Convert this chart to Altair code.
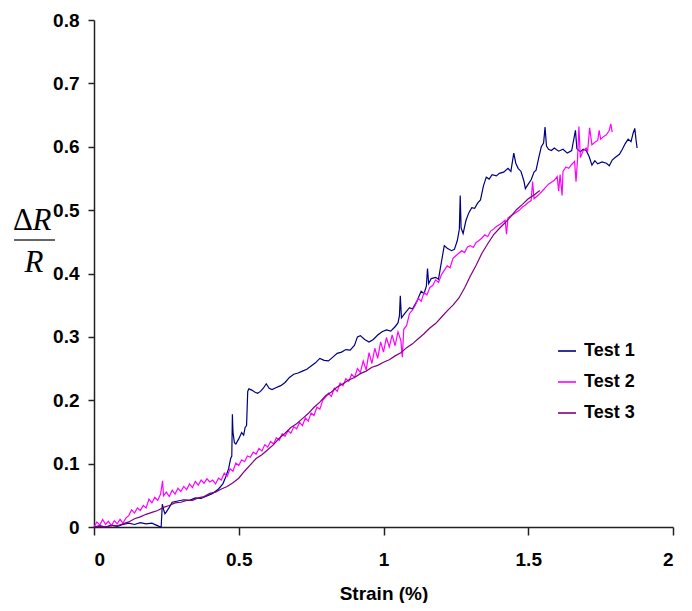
import altair as alt
import pandas as pd

series_names = ["Test 1", "Test 2", "Test 3"]
series_colors = ["#000080", "#FF00FF", "#800080"]
x_ticks = [0, 0.5, 1, 1.5, 2]
y_ticks = [0, 0.1, 0.2, 0.3, 0.4, 0.5, 0.6, 0.7, 0.8]

t1_strain = [
    0.00, 0.02, 0.04, 0.06, 0.08, 0.10, 0.12, 0.14, 0.16, 0.18,
    0.20, 0.215, 0.225, 0.232, 0.236, 0.24, 0.245, 0.25, 0.26, 0.27,
    0.29, 0.31, 0.33, 0.35, 0.37, 0.39, 0.41, 0.43, 0.445, 0.455,
    0.465, 0.472, 0.476, 0.478, 0.480, 0.485, 0.49, 0.50, 0.51, 0.517,
    0.522, 0.527, 0.531, 0.535, 0.545, 0.555, 0.565, 0.575, 0.585, 0.595,
    0.605, 0.615, 0.63, 0.645, 0.66, 0.675, 0.69, 0.705, 0.72, 0.735,
    0.75, 0.765, 0.78, 0.795, 0.81, 0.825, 0.84, 0.855, 0.87, 0.885,
    0.90, 0.91, 0.92, 0.935, 0.95, 0.965, 0.98, 0.995, 1.01, 1.025,
    1.04, 1.05, 1.055, 1.058, 1.062, 1.075, 1.09, 1.10, 1.115, 1.13,
    1.14, 1.148, 1.152, 1.156, 1.165, 1.18, 1.19, 1.20, 1.21, 1.22,
    1.235, 1.245, 1.255, 1.262, 1.265, 1.268, 1.275, 1.285, 1.295, 1.305,
    1.315, 1.325, 1.335, 1.345, 1.355, 1.365, 1.375, 1.39, 1.40, 1.415,
    1.43, 1.44, 1.45, 1.457, 1.465, 1.475, 1.485, 1.49, 1.50, 1.51,
    1.52, 1.527, 1.535, 1.545, 1.553, 1.558, 1.563, 1.57, 1.58, 1.59,
    1.605, 1.62, 1.635, 1.65, 1.663, 1.668, 1.68, 1.69, 1.70, 1.71,
    1.72, 1.73, 1.74, 1.755, 1.77, 1.78, 1.79, 1.80, 1.815, 1.825,
    1.835, 1.845, 1.855, 1.862, 1.868, 1.872, 1.876,
]
t1_dr = [
    0.000, 0.002, 0.000, 0.003, 0.001, 0.004, 0.006, 0.004, 0.007, 0.005,
    0.006, 0.003, 0.001, 0.000, 0.036, 0.028, 0.021, 0.024, 0.031, 0.039,
    0.041, 0.043, 0.042, 0.046, 0.045, 0.049, 0.053, 0.060, 0.068, 0.079,
    0.092, 0.108, 0.112, 0.178, 0.150, 0.133, 0.131, 0.139, 0.149, 0.145,
    0.157, 0.160, 0.214, 0.218, 0.216, 0.213, 0.211, 0.214, 0.219, 0.226,
    0.219, 0.217, 0.220, 0.223, 0.228, 0.236, 0.241, 0.243, 0.246, 0.249,
    0.254, 0.259, 0.266, 0.263, 0.262, 0.268, 0.274, 0.276, 0.280, 0.279,
    0.287, 0.300, 0.302, 0.296, 0.292, 0.296, 0.303, 0.308, 0.311, 0.309,
    0.316, 0.322, 0.333, 0.365, 0.330, 0.338, 0.346, 0.344, 0.356, 0.372,
    0.368, 0.380, 0.408, 0.384, 0.392, 0.394, 0.391, 0.418, 0.444, 0.440,
    0.436, 0.438, 0.452, 0.470, 0.523, 0.472, 0.463, 0.484, 0.496, 0.504,
    0.503, 0.511, 0.516, 0.538, 0.552, 0.549, 0.556, 0.554, 0.558, 0.560,
    0.566, 0.561, 0.590, 0.574, 0.566, 0.561, 0.546, 0.534, 0.541, 0.548,
    0.560, 0.563, 0.580, 0.600, 0.606, 0.631, 0.601, 0.596, 0.594, 0.598,
    0.593, 0.596, 0.590, 0.594, 0.626, 0.597, 0.592, 0.596, 0.594, 0.585,
    0.571, 0.578, 0.573, 0.576, 0.574, 0.570, 0.579, 0.583, 0.588, 0.596,
    0.605, 0.612, 0.608, 0.621, 0.629, 0.612, 0.598,
]

t2_strain = [
    0.00, 0.01, 0.02, 0.03, 0.04, 0.05, 0.06, 0.07, 0.08, 0.09,
    0.10, 0.11, 0.12, 0.13, 0.14, 0.15, 0.16, 0.17, 0.18, 0.19,
    0.20, 0.21, 0.22, 0.23, 0.237, 0.24, 0.25, 0.26, 0.27, 0.28,
    0.29, 0.30, 0.31, 0.32, 0.33, 0.34, 0.35, 0.36, 0.37, 0.38,
    0.39, 0.40, 0.41, 0.42, 0.43, 0.44, 0.45, 0.46, 0.47, 0.48,
    0.49, 0.50, 0.51, 0.52, 0.53, 0.54, 0.55, 0.56, 0.57, 0.58,
    0.59, 0.60, 0.61, 0.62, 0.63, 0.64, 0.65, 0.66, 0.67, 0.68,
    0.69, 0.70, 0.71, 0.72, 0.73, 0.74, 0.75, 0.76, 0.77, 0.78,
    0.79, 0.80, 0.81, 0.82, 0.83, 0.84, 0.85, 0.86, 0.87, 0.88,
    0.89, 0.90, 0.91, 0.92, 0.93, 0.94, 0.95, 0.96, 0.97, 0.98,
    0.99, 1.00, 1.01, 1.02, 1.03, 1.04, 1.05, 1.06, 1.065, 1.07,
    1.08, 1.09, 1.10, 1.11, 1.12, 1.13, 1.14, 1.15, 1.16, 1.17,
    1.18, 1.19, 1.20, 1.21, 1.22, 1.23, 1.24, 1.25, 1.26, 1.27,
    1.28, 1.29, 1.30, 1.31, 1.32, 1.33, 1.34, 1.35, 1.36, 1.37,
    1.38, 1.39, 1.40, 1.41, 1.42, 1.425, 1.43, 1.44, 1.45, 1.46,
    1.47, 1.48, 1.49, 1.50, 1.51, 1.515, 1.52, 1.53, 1.54, 1.55,
    1.56, 1.57, 1.58, 1.59, 1.60, 1.605, 1.61, 1.617, 1.62, 1.63,
    1.64, 1.65, 1.66, 1.665, 1.67, 1.675, 1.68, 1.69, 1.70, 1.705,
    1.712, 1.72, 1.73, 1.74, 1.745, 1.75, 1.76, 1.77, 1.78, 1.785,
    1.79,
]
t2_dr = [
    0.000, 0.008, 0.003, 0.012, 0.004, 0.009, 0.002, 0.010, 0.005, 0.012,
    0.006, 0.014, 0.018, 0.027, 0.022, 0.030, 0.026, 0.034, 0.030, 0.044,
    0.038, 0.047, 0.042, 0.052, 0.073, 0.049, 0.055, 0.048, 0.058, 0.052,
    0.061, 0.056, 0.064, 0.059, 0.068, 0.062, 0.072, 0.066, 0.074, 0.069,
    0.076, 0.071, 0.074, 0.068, 0.077, 0.074, 0.085, 0.080, 0.092, 0.088,
    0.101, 0.097, 0.106, 0.103, 0.112, 0.110, 0.118, 0.115, 0.124, 0.120,
    0.130, 0.126, 0.135, 0.131, 0.141, 0.137, 0.147, 0.143, 0.152, 0.148,
    0.158, 0.155, 0.165, 0.160, 0.172, 0.167, 0.180, 0.176, 0.189, 0.186,
    0.200, 0.205, 0.211, 0.206, 0.219, 0.214, 0.227, 0.223, 0.234, 0.230,
    0.241, 0.236, 0.250, 0.244, 0.262, 0.248, 0.275, 0.258, 0.282, 0.266,
    0.292, 0.276, 0.299, 0.284, 0.303, 0.286, 0.308, 0.294, 0.268, 0.312,
    0.318, 0.337, 0.342, 0.350, 0.361, 0.356, 0.370, 0.366, 0.378, 0.381,
    0.390, 0.386, 0.398, 0.405, 0.412, 0.409, 0.424, 0.428, 0.432, 0.436,
    0.433, 0.442, 0.444, 0.441, 0.449, 0.452, 0.456, 0.461, 0.458, 0.467,
    0.470, 0.474, 0.477, 0.480, 0.484, 0.462, 0.488, 0.491, 0.494, 0.497,
    0.500, 0.505, 0.508, 0.512, 0.515, 0.545, 0.518, 0.522, 0.526, 0.531,
    0.536, 0.541, 0.544, 0.547, 0.553, 0.530, 0.556, 0.523, 0.561, 0.568,
    0.566, 0.572, 0.577, 0.545, 0.578, 0.632, 0.583, 0.594, 0.598, 0.592,
    0.630, 0.603, 0.607, 0.610, 0.626, 0.612, 0.616, 0.619, 0.626, 0.636,
    0.623,
]

t3_strain = [
    0.00, 0.02, 0.04, 0.06, 0.08, 0.10, 0.12, 0.14, 0.16, 0.18,
    0.20, 0.22, 0.24, 0.26, 0.28, 0.30, 0.32, 0.34, 0.36, 0.38,
    0.40, 0.42, 0.44, 0.46, 0.48, 0.50, 0.52, 0.54, 0.56, 0.58,
    0.60, 0.62, 0.64, 0.66, 0.68, 0.70, 0.72, 0.74, 0.76, 0.78,
    0.80, 0.82, 0.84, 0.86, 0.88, 0.90, 0.92, 0.94, 0.96, 0.98,
    1.00, 1.02, 1.04, 1.06, 1.08, 1.10, 1.12, 1.14, 1.16, 1.18,
    1.20, 1.22, 1.24, 1.26, 1.28, 1.30, 1.32, 1.34, 1.36, 1.38,
    1.40, 1.42, 1.44, 1.46, 1.48, 1.50, 1.52, 1.54,
]
t3_dr = [
    0.000, 0.001, 0.000, 0.002, 0.002, 0.005, 0.008, 0.013, 0.016, 0.020,
    0.023, 0.026, 0.031, 0.034, 0.038, 0.039, 0.042, 0.042, 0.046, 0.048,
    0.053, 0.055, 0.060, 0.064, 0.070, 0.077, 0.088, 0.098, 0.108, 0.114,
    0.122, 0.130, 0.140, 0.148, 0.157, 0.163, 0.171, 0.179, 0.189, 0.197,
    0.207, 0.213, 0.221, 0.226, 0.232, 0.236, 0.242, 0.246, 0.252, 0.255,
    0.260, 0.264, 0.270, 0.275, 0.283, 0.289, 0.297, 0.305, 0.314, 0.321,
    0.331, 0.341, 0.350, 0.361, 0.377, 0.396, 0.413, 0.432, 0.447, 0.461,
    0.471, 0.480, 0.490, 0.501, 0.509, 0.518, 0.524, 0.531,
]

rows = []
for name, xs, ys in [("Test 1", t1_strain, t1_dr),
                     ("Test 2", t2_strain, t2_dr),
                     ("Test 3", t3_strain, t3_dr)]:
    n = min(len(xs), len(ys))
    for i in range(n):
        rows.append({"series": name, "strain": xs[i], "dr": ys[i], "idx": i})
df = pd.DataFrame(rows)

SANS = "Liberation Sans, Arial, sans-serif"
SERIF = "Liberation Serif, Times New Roman, serif"

lines = alt.Chart(df).mark_line(strokeWidth=1.2).encode(
    x=alt.X("strain:Q",
            scale=alt.Scale(domain=[0, 2], nice=False),
            axis=alt.Axis(values=x_ticks, format="~g", title="Strain (%)",
                          tickSize=8, labelPadding=15, titlePadding=15,
                          labelFontSize=19, titleFontSize=19)),
    y=alt.Y("dr:Q",
            scale=alt.Scale(domain=[0, 0.8], nice=False),
            axis=alt.Axis(values=y_ticks, format="~g", title=None,
                          tickSize=6, labelPadding=9, labelFontSize=19)),
    color=alt.Color("series:N",
                    scale=alt.Scale(domain=series_names, range=series_colors),
                    legend=alt.Legend(title=None, orient="none",
                                      legendX=463, legendY=321,
                                      symbolType="stroke", symbolSize=324,
                                      symbolStrokeWidth=1.6,
                                      labelFont=SANS, labelFontWeight="bold",
                                      labelFontSize=18, labelColor="black",
                                      labelOffset=7, rowPadding=12, padding=0)),
    order=alt.Order("idx:Q"),
)

delta = alt.Chart(pd.DataFrame({"t": ["Δ"]})).mark_text(
    font=SERIF, fontSize=31, align="center",
    baseline="alphabetic", color="black"
).encode(x=alt.value(-71), y=alt.value(210), text="t:N")

num = alt.Chart(pd.DataFrame({"t": ["R"]})).mark_text(
    font=SERIF, fontStyle="italic", fontSize=31, align="center",
    baseline="alphabetic", color="black"
).encode(x=alt.value(-52), y=alt.value(210), text="t:N")

den = alt.Chart(pd.DataFrame({"t": ["R"]})).mark_text(
    font=SERIF, fontStyle="italic", fontSize=31, align="center",
    baseline="alphabetic", color="black"
).encode(x=alt.value(-60), y=alt.value(252), text="t:N")

bar = alt.Chart(pd.DataFrame({"a": [0]})).mark_rule(
    strokeWidth=1.5, color="#333333"
).encode(x=alt.value(-80), x2=alt.value(-39), y=alt.value(220))

chart = alt.layer(lines, delta, num, den, bar).properties(
    width=579, height=507,
    autosize=alt.AutoSizeParams(type="none"),
    padding={"left": 86, "top": 12, "right": 11, "bottom": 76},
    background="white",
).configure_view(stroke=None).configure_axis(
    grid=False,
    labelFont=SANS, labelFontWeight="bold", labelColor="black",
    titleFont=SANS, titleFontWeight="bold", titleColor="black",
    domainColor="#222222", domainWidth=1.5,
    tickColor="#222222", tickWidth=1.5,
)

chart.save("out.html", embed_options={"renderer": "svg", "actions": False})
